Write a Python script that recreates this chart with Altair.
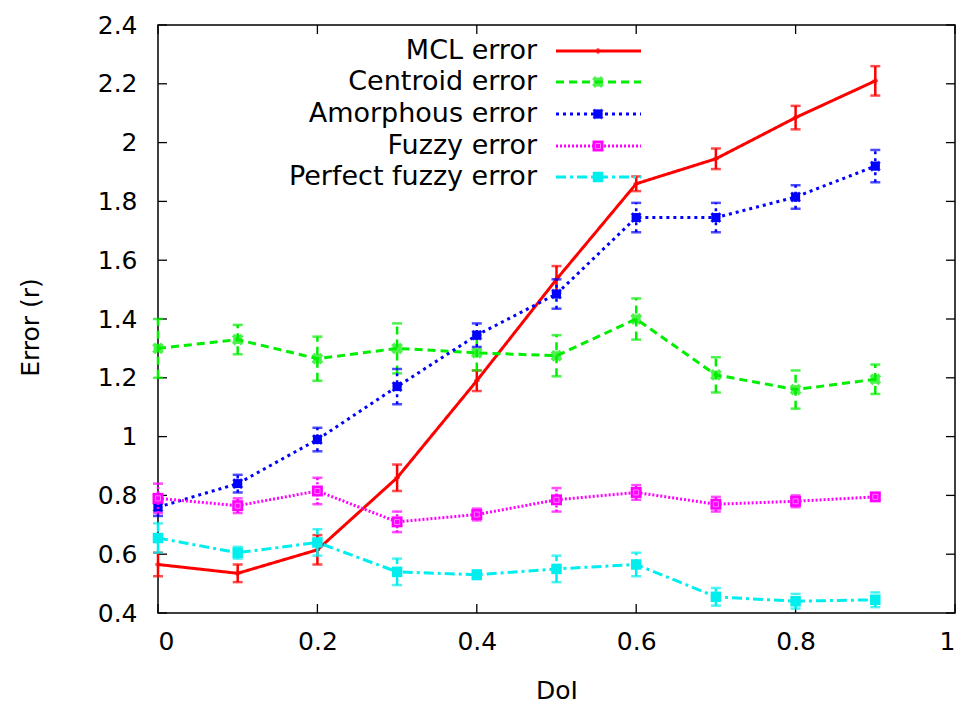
import altair as alt
import pandas as pd

# DoI sample points
doi = [0.0, 0.1, 0.2, 0.3, 0.4, 0.5, 0.6, 0.7, 0.8, 0.9]

# Mean localisation error (in units of r) and its error-bar half width
mcl_err_mean = [0.565, 0.535, 0.615, 0.86, 1.19, 1.535, 1.86, 1.945, 2.085, 2.21]
mcl_err_sd = [0.04, 0.03, 0.05, 0.045, 0.035, 0.045, 0.025, 0.035, 0.04, 0.05]

centroid_mean = [1.30, 1.33, 1.265, 1.30, 1.285, 1.275, 1.40, 1.21, 1.16, 1.195]
centroid_sd = [0.10, 0.05, 0.075, 0.085, 0.06, 0.07, 0.07, 0.06, 0.065, 0.05]

amorphous_mean = [0.76, 0.84, 0.99, 1.17, 1.345, 1.485, 1.745, 1.745, 1.815, 1.92]
amorphous_sd = [0.03, 0.03, 0.04, 0.06, 0.04, 0.05, 0.05, 0.05, 0.04, 0.055]

fuzzy_mean = [0.79, 0.765, 0.815, 0.71, 0.735, 0.785, 0.81, 0.77, 0.78, 0.795]
fuzzy_sd = [0.05, 0.025, 0.045, 0.035, 0.02, 0.04, 0.025, 0.025, 0.02, 0.01]

perfect_mean = [0.655, 0.605, 0.64, 0.54, 0.53, 0.55, 0.565, 0.455, 0.44, 0.445]
perfect_sd = [0.05, 0.02, 0.045, 0.045, 0.015, 0.045, 0.04, 0.03, 0.025, 0.025]

series_names = ["MCL error", "Centroid error", "Amorphous error", "Fuzzy error", "Perfect fuzzy error"]
series_means = [mcl_err_mean, centroid_mean, amorphous_mean, fuzzy_mean, perfect_mean]
series_sds = [mcl_err_sd, centroid_sd, amorphous_sd, fuzzy_sd, perfect_sd]

x_ticks = [0, 0.2, 0.4, 0.6, 0.8, 1.0]
y_ticks = [0.4, 0.6, 0.8, 1.0, 1.2, 1.4, 1.6, 1.8, 2.0, 2.2, 2.4]

W, H = 797, 588
FONT = "DejaVu Sans"
FS = 25

colors = ["#ff0000", "#00ee00", "#0000ff", "#ff00ff", "#00eeee"]
dashes = [[1, 0], [8, 5], [3, 4], [2, 2], [10, 4, 3, 4]]
plus_path = "M-1,0L1,0M0,-1L0,1"
star_path = "M-1,-1L1,1M-1,1L1,-1M0,-1L0,1M-1,0L1,0"


def marker_layers(chart, i, xenc, yenc):
    """Point symbols for series i."""
    c = colors[i]
    out = []
    if i == 0:
        out.append(chart.mark_point(shape=plus_path, color=c, size=30, strokeWidth=2.5,
                                    filled=False).encode(x=xenc, y=yenc))
    elif i == 1:
        out.append(chart.mark_point(shape=star_path, color=c, size=80, strokeWidth=4,
                                    filled=False).encode(x=xenc, y=yenc))
    elif i == 2:
        out.append(chart.mark_point(shape="square", color=c, size=80, filled=True,
                                    opacity=1).encode(x=xenc, y=yenc))
        out.append(chart.mark_point(shape=star_path, color=c, size=80, strokeWidth=3,
                                    filled=False).encode(x=xenc, y=yenc))
    elif i == 3:
        out.append(chart.mark_point(shape="square", color=c, size=120, filled=True,
                                    opacity=1).encode(x=xenc, y=yenc))
        out.append(chart.mark_point(shape="square", color="#ffb0ff", size=25,
                                    strokeWidth=1, filled=False).encode(x=xenc, y=yenc))
    else:
        out.append(chart.mark_point(shape="square", color=c, size=110, filled=True,
                                    opacity=1).encode(x=xenc, y=yenc))
    return out


xs = alt.Scale(domain=[0, 1], nice=False, zero=False)
ys = alt.Scale(domain=[0.4, 2.4], nice=False, zero=False)

x_axis = alt.Axis(values=x_ticks, format=".1~f", tickSize=0, labelPadding=16,
                  grid=False, domain=False, title="DoI", titleY=77,
                  titleBaseline="middle", titleFontWeight="normal")
y_axis = alt.Axis(values=y_ticks, format=".1~f", tickSize=0, labelPadding=21,
                  grid=False, domain=False, title="Error (r)", titleX=-128,
                  titleY=302, titleAngle=-90, titleAlign="center",
                  titleBaseline="middle", titleFontWeight="normal")

X = alt.X("x:Q", scale=xs, axis=x_axis)
Y = alt.Y("y:Q", scale=ys, axis=y_axis)

layers = []

# inward tick marks on all four sides
xt = pd.DataFrame({"x": x_ticks})
yt = pd.DataFrame({"y": y_ticks})
tick_style = dict(color="black", strokeWidth=1.3)
layers.append(alt.Chart(xt).mark_rule(**tick_style).encode(x=X, y=alt.value(H), y2=alt.value(H - 9)))
layers.append(alt.Chart(xt).mark_rule(**tick_style).encode(x=X, y=alt.value(0), y2=alt.value(9)))
layers.append(alt.Chart(yt).mark_rule(**tick_style).encode(y=Y, x=alt.value(0), x2=alt.value(9)))
layers.append(alt.Chart(yt).mark_rule(**tick_style).encode(y=Y, x=alt.value(W - 9), x2=alt.value(W)))

for i, name in enumerate(series_names):
    df = pd.DataFrame({
        "x": doi,
        "y": series_means[i],
        "lo": [m - s for m, s in zip(series_means[i], series_sds[i])],
        "hi": [m + s for m, s in zip(series_means[i], series_sds[i])],
    })
    c = colors[i]
    d = dashes[i]
    base = alt.Chart(df)
    layers.append(base.mark_line(color=c, strokeWidth=3, strokeDash=d).encode(x=X, y=Y))
    layers.append(base.mark_rule(color=c, strokeWidth=2.5, strokeDash=d).encode(
        x=X, y=alt.Y("lo:Q", scale=ys, axis=y_axis), y2="hi:Q"))
    for f in ["lo", "hi"]:
        layers.append(base.mark_tick(color=c, orient="horizontal", size=10, thickness=2.5).encode(
            x=X, y=alt.Y(f"{f}:Q", scale=ys, axis=y_axis)))
    layers.extend(marker_layers(base, i, X, Y))

# key in the upper middle: labels right-aligned, line samples to the right
key_rows = [26, 57, 89, 121, 152]
for i, name in enumerate(series_names):
    kd = pd.DataFrame({"label": [name], "py": [key_rows[i]]})
    kb = alt.Chart(kd)
    py = alt.Y("py:Q", scale=None, axis=None)
    layers.append(kb.mark_text(align="right", baseline="middle", font=FONT, fontSize=FS + 2,
                               color="black").encode(x=alt.value(379), y=py, text="label:N"))
    layers.append(kb.mark_rule(color=colors[i], strokeWidth=3, strokeDash=dashes[i]).encode(
        x=alt.value(398), x2=alt.value(483), y=py))
    layers.extend(marker_layers(kb, i, alt.value(440), py))

chart = alt.layer(*layers).properties(
    width=W, height=H,
    background="white",
    autosize=alt.AutoSizeParams(type="none"),
    padding={"left": 158, "top": 25, "right": 11, "bottom": 94},
).configure_view(
    stroke="black", strokeWidth=1.5
).configure_axis(
    labelFont=FONT, labelFontSize=FS, labelColor="black",
    titleFont=FONT, titleFontSize=FS, titleColor="black",
)

chart.save("out.html", embed_options={"renderer": "svg", "actions": False})
